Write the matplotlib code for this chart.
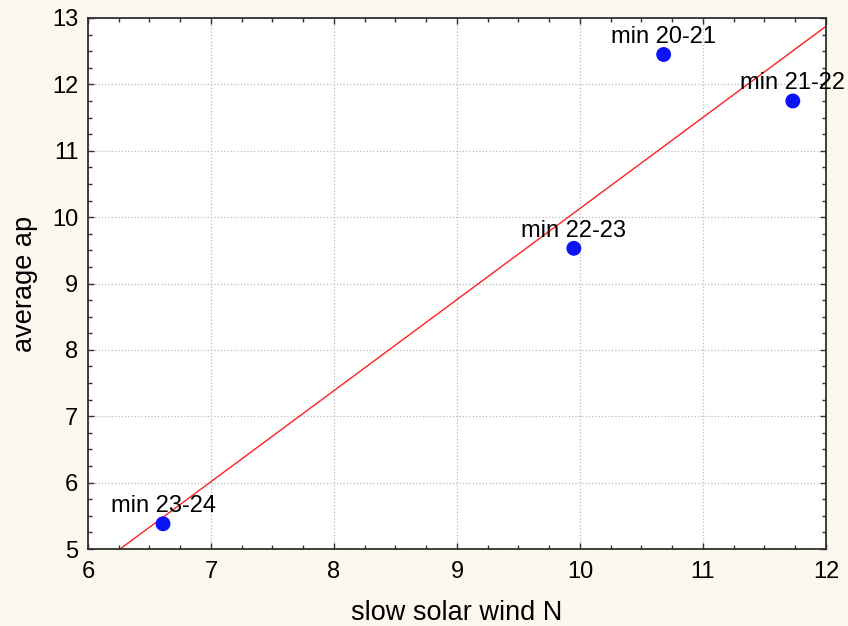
import matplotlib
matplotlib.use("Agg")
import matplotlib.pyplot as plt
import numpy as np
from matplotlib.ticker import MultipleLocator

plt.rcParams['font.family'] = ['Liberation Sans', 'DejaVu Sans']

labels = ["min 20-21", "min 21-22", "min 22-23", "min 23-24"]
wind_n = [10.68, 11.73, 9.95, 6.61]
avg_ap = [12.45, 11.75, 9.53, 5.38]

bg = '#FDF8EE'
fig = plt.figure(figsize=(8.48, 6.26), dpi=100, facecolor=bg)
ax = fig.add_axes([88/848, 1-549/626, (826-88)/848, (549-18)/626])
ax.set_facecolor('white')

# regression line
slope, intercept = np.polyfit(wind_n, avg_ap, 1)
xs = np.array([6.0, 12.0])
ax.plot(xs, slope*xs + intercept, color='#FF2020', lw=1.0, zorder=2)

ax.scatter(wind_n, avg_ap, s=115, color='#0A14F5', edgecolors='none', zorder=3)
for lab, x, y in zip(labels, wind_n, avg_ap):
    ax.annotate(lab, (x, y), xytext=(0, 8.5), textcoords='offset points',
                ha='center', va='baseline', fontsize=17, color='black', zorder=4)

ax.set_xlim(6, 12)
ax.set_ylim(5, 13)
ax.xaxis.set_major_locator(MultipleLocator(1))
ax.yaxis.set_major_locator(MultipleLocator(1))
ax.xaxis.set_minor_locator(MultipleLocator(0.25))
ax.yaxis.set_minor_locator(MultipleLocator(0.25))
ax.grid(True, which='major', linestyle=':', color='#BBBBBB', linewidth=0.9)
ax.set_axisbelow(True)

ax.tick_params(which='both', direction='in', top=True, right=True,
               colors='#303030', labelcolor='black')
ax.tick_params(which='major', length=4, width=1)
ax.tick_params(which='minor', length=3, width=1)
ax.tick_params(axis='x', which='major', labelsize=17, pad=9)
ax.tick_params(axis='y', which='major', labelsize=17, pad=7)

for sp in ax.spines.values():
    sp.set_color('#303030')
    sp.set_linewidth(1.3)

ax.set_xlabel('slow solar wind N', fontsize=19.5, labelpad=12)
ax.set_ylabel('average ap', fontsize=19.5, labelpad=10)

fig.savefig('out.png', dpi=100, facecolor=bg)
